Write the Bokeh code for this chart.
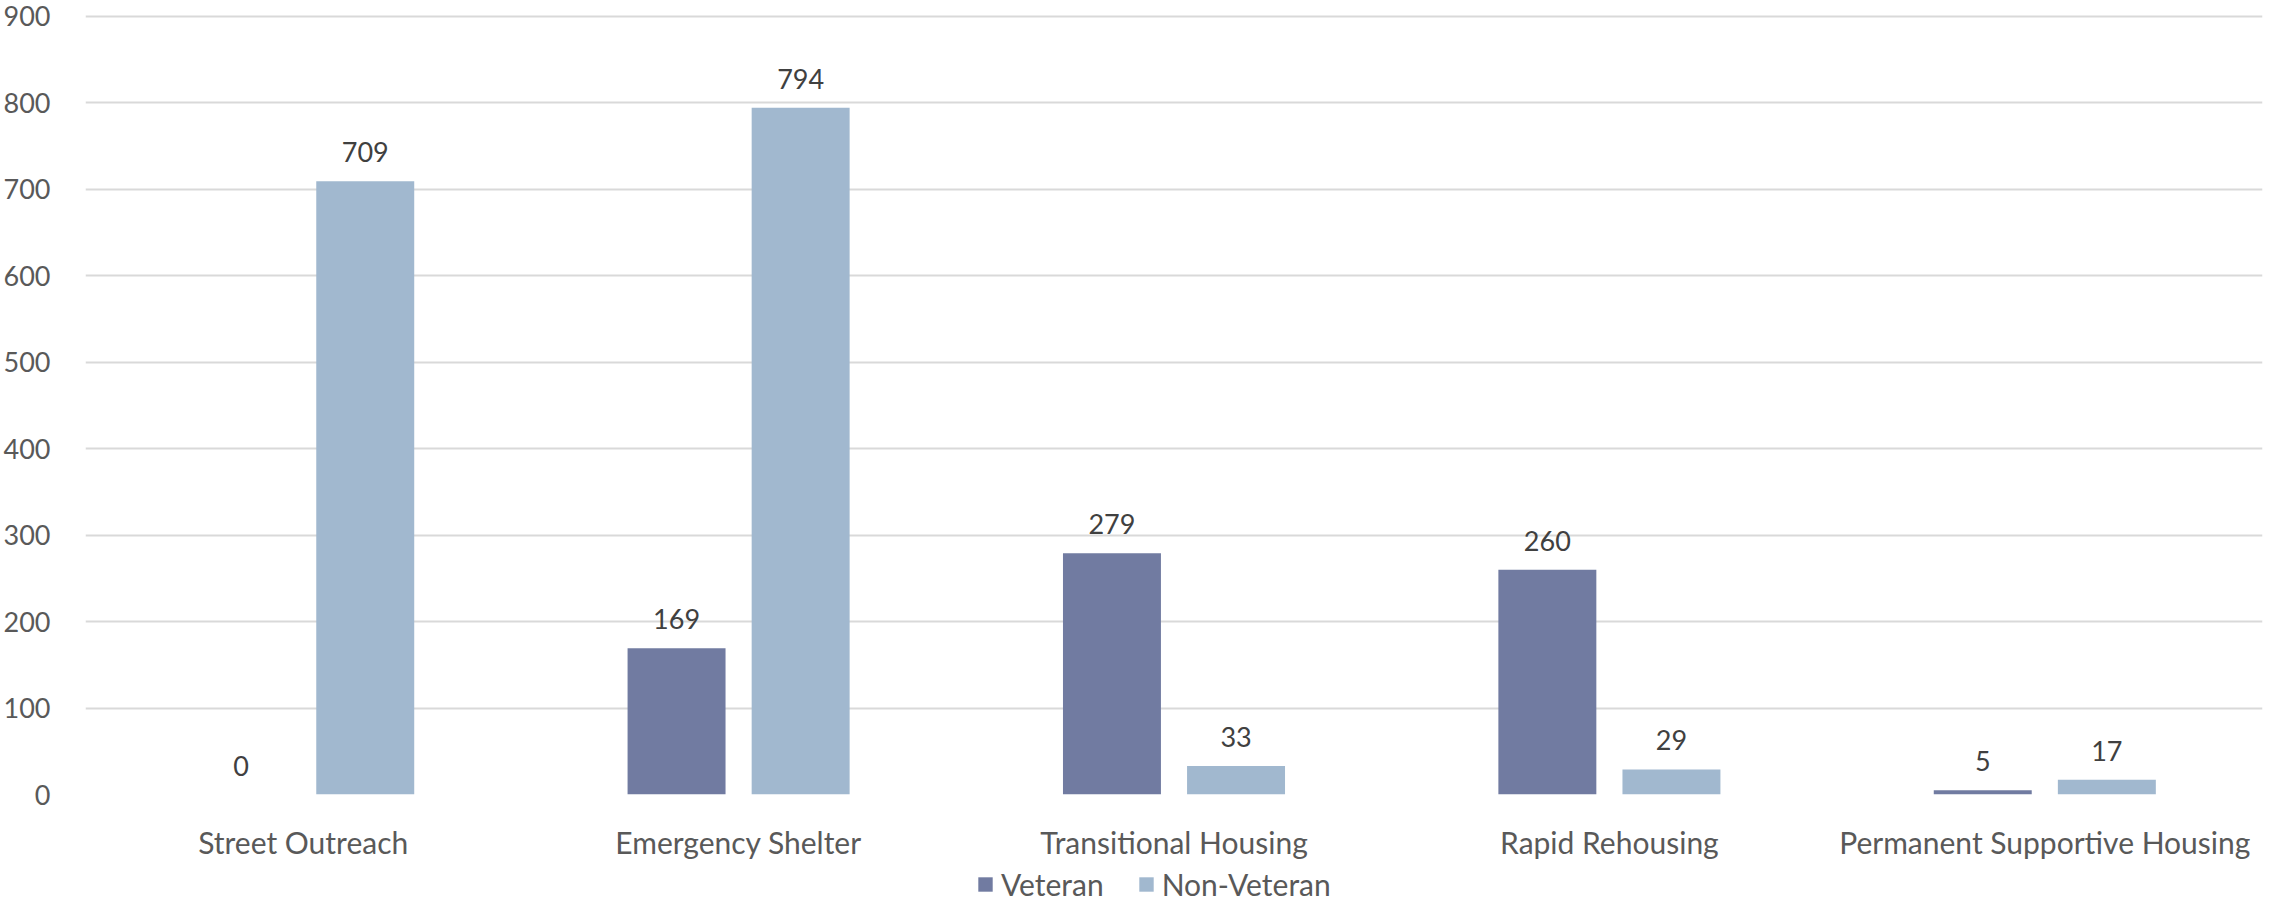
from bokeh.plotting import figure
from bokeh.layouts import column
from bokeh.models import ColumnDataSource, FactorRange, LabelSet, Legend, LegendItem, SingleIntervalTicker
from bokeh.core.properties import value
from bokeh.transform import dodge
from bokeh.embed import file_html
from bokeh.resources import INLINE

categories = ["Street Outreach", "Emergency Shelter", "Transitional Housing",
              "Rapid Rehousing", "Permanent Supportive Housing"]
veteran = [0, 169, 279, 260, 5]
non_veteran = [709, 794, 33, 29, 17]
series_names = ["Veteran", "Non-Veteran"]
series_colors = ["#717BA1", "#A1B8CF"]

FONT = "Lato"

src = ColumnDataSource(dict(
    cat=categories,
    vet=veteran,
    nonvet=non_veteran,
    vet_lbl=[str(v) for v in veteran],
    nonvet_lbl=[str(v) for v in non_veteran],
))

p = figure(x_range=FactorRange(factors=categories), y_range=(0, 903),
           width=2264, height=862, output_backend="svg", toolbar_location=None,
           min_border_left=81, min_border_right=2, min_border_top=13, min_border_bottom=66)
p.outline_line_color = None
p.background_fill_color = "white"
p.border_fill_color = "white"

bw = 0.225
off = 0.1425
r1 = p.vbar(x=dodge("cat", -off, range=p.x_range), top="vet", width=bw, source=src,
            fill_color=series_colors[0], line_color=None)
r2 = p.vbar(x=dodge("cat", off, range=p.x_range), top="nonvet", width=bw, source=src,
            fill_color=series_colors[1], line_color=None)

for col, o in (("vet", -off), ("nonvet", off)):
    lab = LabelSet(x=dodge("cat", o, range=p.x_range), y=col, text=col + "_lbl",
                   source=src, y_offset=19, text_align="center", text_baseline="alphabetic",
                   text_font=value(FONT), text_font_size=value("27px"), text_color=value("#404040"))
    p.add_layout(lab)

p.yaxis.ticker = SingleIntervalTicker(interval=100)
p.ygrid.ticker = SingleIntervalTicker(interval=100)
p.ygrid.grid_line_color = "#D9D9D9"
p.ygrid.grid_line_width = 2
p.xgrid.grid_line_color = None

for ax in (p.xaxis, p.yaxis):
    ax.axis_line_color = None
    ax.major_tick_line_color = None
    ax.minor_tick_line_color = None
    ax.major_label_text_font = FONT
    ax.major_label_text_color = "#595959"
p.yaxis.major_label_text_font_size = "27px"
p.xaxis.major_label_text_font_size = "30px"
p.yaxis.major_label_standoff = 29
p.xaxis.major_label_standoff = 23

# legend strip below the chart (its renderers are zero-size bars that draw nothing)
lg = figure(width=2264, height=40, x_range=(0, 1), y_range=(0, 1), output_backend="svg",
            toolbar_location=None, min_border=0, outline_line_color=None)
lg.axis.visible = False
lg.grid.visible = False
lr1 = lg.vbar(x=[0.5], top=[0], width=0, fill_color=series_colors[0], line_color=None)
lr2 = lg.vbar(x=[0.5], top=[0], width=0, fill_color=series_colors[1], line_color=None)
legend = Legend(items=[LegendItem(label=series_names[0], renderers=[lr1]),
                       LegendItem(label=series_names[1], renderers=[lr2])],
                orientation="horizontal", location=(891, 0),
                label_text_font=FONT, label_text_font_size="30px", label_text_color="#595959",
                label_height=18,
                glyph_width=18, glyph_height=18, spacing=33, label_standoff=7,
                padding=0, margin=0, border_line_color=None, background_fill_alpha=0)
lg.add_layout(legend, "center")

layout = column(p, lg, spacing=0)
open("out.html", "w").write(file_html(layout, INLINE))
